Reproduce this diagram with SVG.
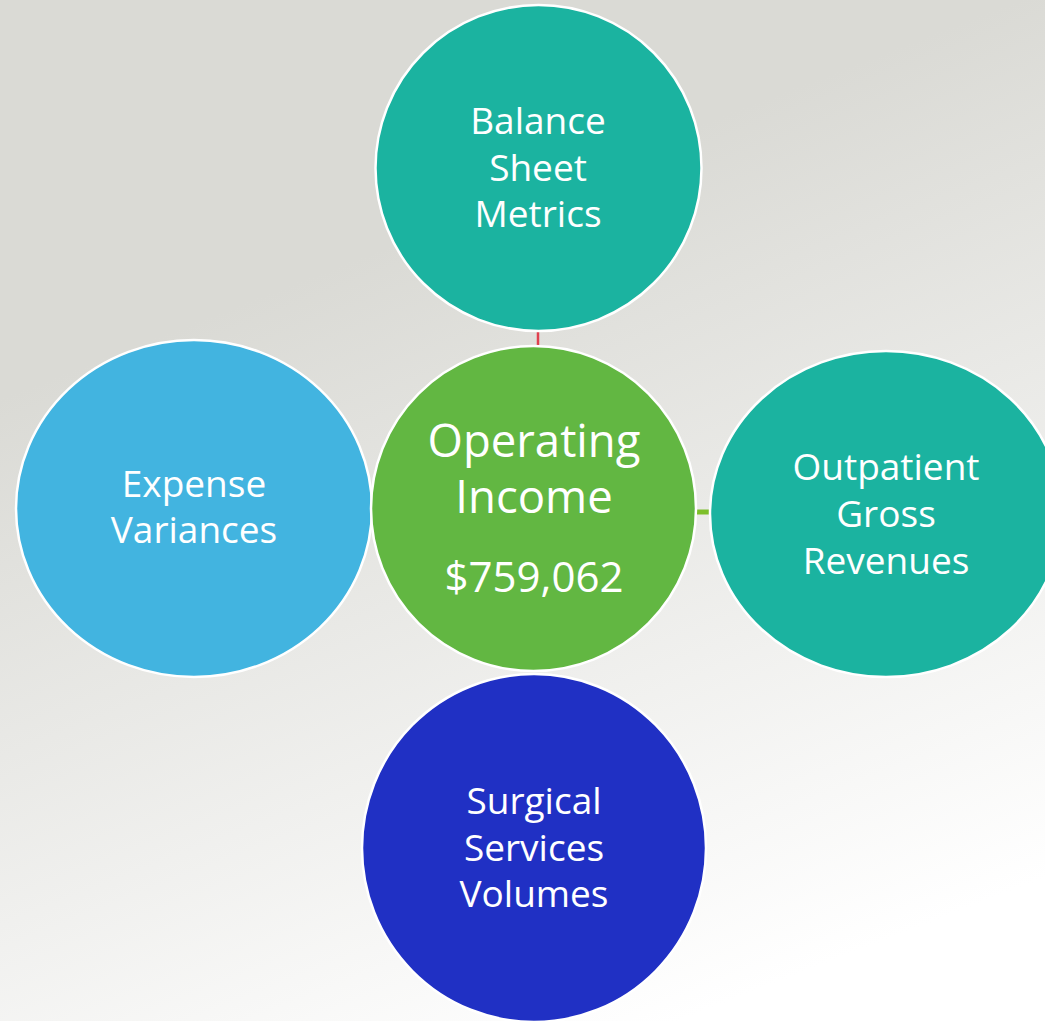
<svg xmlns="http://www.w3.org/2000/svg" width="1045" height="1021" viewBox="0 0 1045 1021">
<defs>
<linearGradient id="bg" x1="0.35" y1="0.25" x2="0.65" y2="1">
<stop offset="0" stop-color="#dadad5"/>
<stop offset="1" stop-color="#ffffff"/>
</linearGradient>
<style>
.n{stroke:#ffffff;stroke-width:2.5}
.t{font-family:"Open Sans","Liberation Sans",sans-serif;fill:#ffffff;text-anchor:middle;font-size:37px}
.b{font-size:45.5px}
</style>
</defs>
<rect width="1045" height="1021" fill="url(#bg)"/>
<g id="connectors">
<line x1="538" y1="332" x2="538" y2="346" stroke="#e0404e" stroke-width="2.5"/>
<line x1="696" y1="512" x2="711" y2="512" stroke="#7dbf2a" stroke-width="5"/>
</g>
<g id="balance">
<circle class="n" cx="538.5" cy="168" r="163" fill="#1bb3a0"/>
<text class="t" x="538" y="134">Balance</text>
<text class="t" x="538" y="181">Sheet</text>
<text class="t" x="538" y="227">Metrics</text>
</g>
<g id="expense">
<ellipse class="n" cx="194" cy="508.5" rx="178" ry="168.5" fill="#42b4e0"/>
<text class="t" x="194" y="497">Expense</text>
<text class="t" x="194" y="543">Variances</text>
</g>
<g id="outpatient">
<ellipse class="n" cx="886" cy="514" rx="176" ry="163" fill="#1bb3a0"/>
<text class="t" x="886" y="480">Outpatient</text>
<text class="t" x="886" y="527">Gross</text>
<text class="t" x="886" y="574">Revenues</text>
</g>
<g id="surgical">
<ellipse class="n" cx="534" cy="848" rx="172" ry="174" fill="#2030c4"/>
<text class="t" x="534" y="814">Surgical</text>
<text class="t" x="534" y="861">Services</text>
<text class="t" x="534" y="907">Volumes</text>
</g>
<g id="operating">
<circle class="n" cx="533.5" cy="508.5" r="162.5" fill="#62b742"/>
<text class="t b" x="534" y="457">Operating</text>
<text class="t b" x="534" y="513">Income</text>
<text class="t" x="534" y="592" style="font-size:42px">$759,062</text>
</g>
</svg>
